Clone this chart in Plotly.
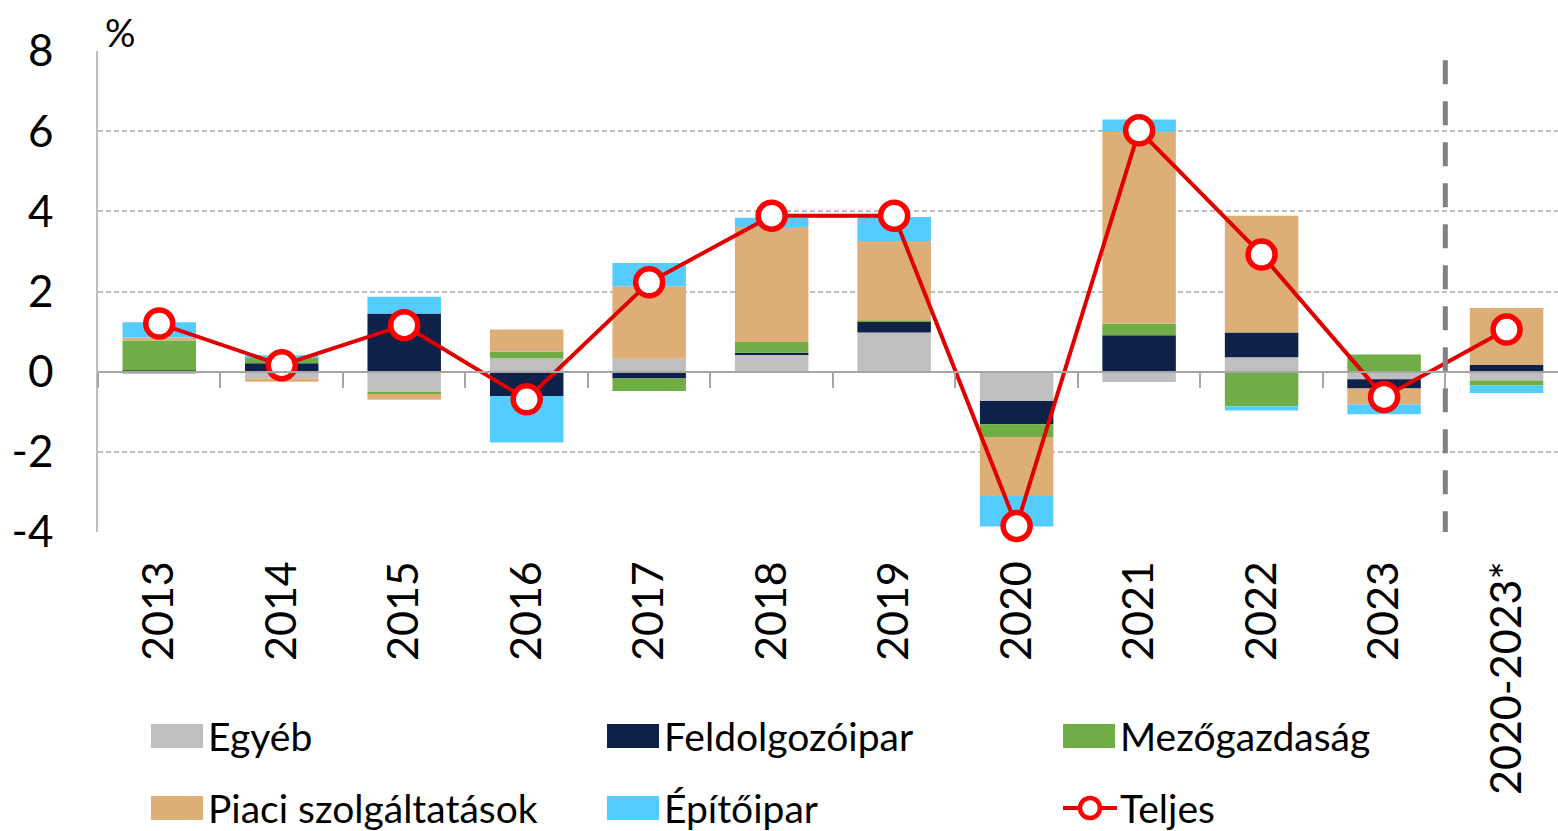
import plotly.graph_objects as go

categories = ["2013", "2014", "2015", "2016", "2017", "2018", "2019", "2020", "2021", "2022", "2023", "2020-2023*"]
egyeb = [-0.06, -0.17, -0.50, 0.33, 0.32, 0.43, 0.98, -0.73, -0.26, 0.36, -0.19, -0.22]
feldolgozoipar = [0.03, 0.21, 1.45, -0.61, -0.17, 0.04, 0.27, -0.58, 0.91, 0.62, -0.23, 0.17]
mezogazdasag = [0.75, 0.13, -0.06, 0.17, -0.31, 0.27, 0.02, -0.32, 0.29, -0.86, 0.43, -0.12]
piaci = [0.07, -0.08, -0.14, 0.55, 1.81, 2.87, 1.99, -1.47, 4.78, 2.91, -0.40, 1.42]
epitoipar = [0.38, 0.07, 0.42, -1.16, 0.58, 0.23, 0.60, -0.76, 0.31, -0.11, -0.24, -0.19]
teljes = [1.20, 0.16, 1.16, -0.69, 2.23, 3.89, 3.89, -3.85, 6.02, 2.92, -0.63, 1.05]

series_names = ["Egyéb", "Feldolgozóipar", "Mezőgazdaság", "Piaci szolgáltatások", "Építőipar"]
series_values = [egyeb, feldolgozoipar, mezogazdasag, piaci, epitoipar]
series_colors = ["#BFBFBF", "#0E2148", "#70AD47", "#DEAE78", "#55CCFF"]
line_name = "Teljes"
y_ticks = [-4, -2, 0, 2, 4, 6, 8]
y_tick_text = ["-4", "-2", "0", "2", "4", "6", "8"]

FONT = "Lato"
W, H = 1558, 831
L, R, T, B = 98, 0, 51, 299
PW, PH = W - L - R, H - T - B


def px(x):
    return (x - L) / PW


def py(y):
    return (H - B - y) / PH


fig = go.Figure()
for name, vals, col in zip(series_names, series_values, series_colors):
    fig.add_trace(go.Bar(x=categories, y=vals, name=name, marker=dict(color=col, line=dict(width=0)),
                         width=0.6, showlegend=False))

fig.add_trace(go.Scatter(x=categories, y=teljes, name=line_name, mode="lines+markers",
                         line=dict(color="#E00000", width=4),
                         marker=dict(symbol="circle", size=27, color="white",
                                     line=dict(color="#FF0000", width=5.5)),
                         showlegend=False, cliponaxis=False))

# invisible helper trace on overlay axis for category-boundary ticks at zero
fig.add_trace(go.Scatter(x=[0], y=[0], xaxis="x2", mode="markers", marker=dict(opacity=0),
                         showlegend=False, hoverinfo="skip"))

fig.update_layout(
    width=W, height=H,
    margin=dict(l=L, r=R, t=T, b=B, autoexpand=False),
    barmode="relative",
    plot_bgcolor="white", paper_bgcolor="white",
    font=dict(family=FONT, color="black"),
    showlegend=False,
    xaxis=dict(type="category", range=[-0.5, 11.42], showgrid=False, zeroline=False,
               showline=False, ticks="outside", ticklen=0, tickcolor="rgba(0,0,0,0)",
               tickangle=-90, tickfont=dict(size=43, family=FONT, color="black"),
               ticklabelstandoff=11, automargin=False),
    xaxis2=dict(overlaying="x", anchor="free", position=py(372), range=[-0.5, 11.42],
                side="bottom", showgrid=False, zeroline=False, showline=True,
                linecolor="#A6A6A6", linewidth=2, ticks="outside", ticklen=15, tickwidth=2,
                tickcolor="#A6A6A6", tickvals=[i - 0.5 for i in range(len(categories))],
                showticklabels=False, automargin=False),
    yaxis=dict(range=[-4, 8], tickvals=y_ticks, ticktext=y_tick_text, showgrid=True,
               gridcolor="#BFBFBF", gridwidth=1.5, griddash="5px,3px", zeroline=False,
               showline=True, linecolor="#BFBFBF", linewidth=1.5, ticks="outside", ticklen=0,
               tickcolor="rgba(0,0,0,0)", ticklabelstandoff=34, automargin=False,
               tickfont=dict(size=44, family=FONT, color="black")),
)

# vertical dashed separator before the aggregated period
fig.add_shape(type="line", xref="x", yref="y", x0=10.5, x1=10.5, y0=-4.08, y1=8,
              line=dict(color="#808080", width=5, dash="24px,17px"))

# "%" unit label
fig.add_annotation(text="%", xref="paper", yref="paper", x=px(120), y=py(32),
                   xanchor="center", yanchor="middle",
                   showarrow=False, font=dict(size=38, family=FONT, color="black"))

# manual legend
cols_x = [151, 607, 1063]
rows_y = [736, 808]
legend_items = list(zip(series_names, series_colors)) + [(line_name, None)]
for i, (name, col) in enumerate(legend_items):
    cx = cols_x[i % 3]
    cy = rows_y[i // 3]
    if col is not None:
        fig.add_shape(type="rect", xref="paper", yref="paper",
                      x0=px(cx), x1=px(cx + 52), y0=py(cy - 12), y1=py(cy + 12),
                      fillcolor=col, line=dict(width=0))
    else:
        fig.add_shape(type="line", xref="paper", yref="paper",
                      x0=px(cx), x1=px(cx + 54), y0=py(cy), y1=py(cy),
                      line=dict(color="#E00000", width=4))
        fig.add_shape(type="circle", xref="paper", yref="paper",
                      x0=px(cx + 17), x1=px(cx + 37), y0=py(cy - 10), y1=py(cy + 10),
                      fillcolor="white", line=dict(color="#FF0000", width=4.5))
    fig.add_annotation(text=name, xref="paper", yref="paper", x=px(cx + 55), y=py(cy),
                       xanchor="left", yanchor="middle", showarrow=False,
                       font=dict(size=39, family=FONT, color="black"))

fig.write_html("out.html", config={"displayModeBar": False},
               post_script="document.body.style.margin='0px';document.body.style.overflow='hidden';")
